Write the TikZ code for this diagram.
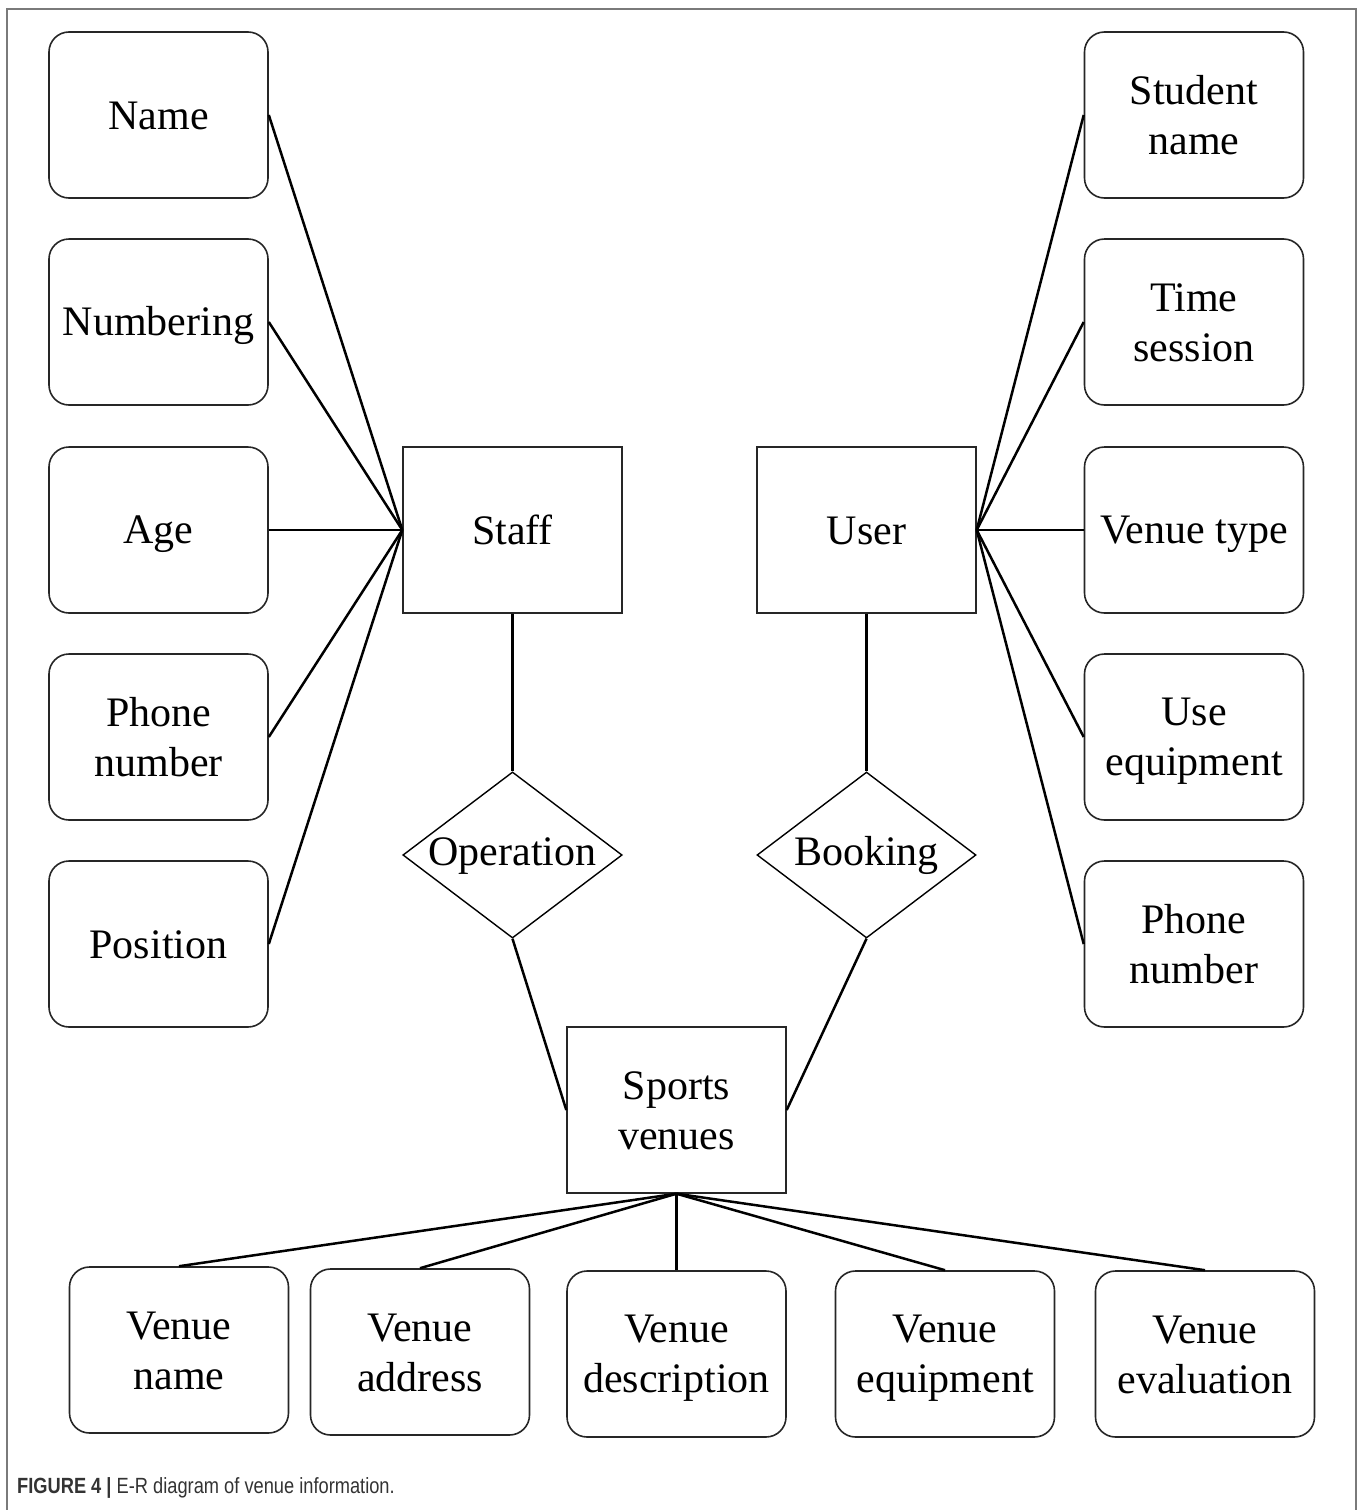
\documentclass[tikz,border=0pt]{standalone}
\usepackage{fontspec}
\setmainfont{Liberation Serif}
\newfontfamily\capfont[FakeStretch=0.83]{Liberation Sans}
\usetikzlibrary{shapes.geometric}
\definecolor{framegray}{HTML}{7A7A7A}
\definecolor{capgray}{HTML}{333333}
\newcommand{\ls}{\rule[-8pt]{0pt}{44pt}}
\tikzset{
  attr/.style={draw=black!85, line width=1.6pt, rounded corners=20pt, minimum width=219pt, minimum height=166pt, inner sep=0pt, align=center, font=\fontsize{42}{50}\selectfont},
  ent/.style={draw=black!85, line width=1.4pt, minimum width=219pt, minimum height=166pt, inner sep=0pt, align=center, font=\fontsize{42}{50}\selectfont},
  rel/.style={draw=black, line width=1.4pt, diamond, aspect=1.32, minimum width=219pt, minimum height=166pt, inner sep=0pt, font=\fontsize{42}{50}\selectfont},
  conn/.style={draw=black, line width=2.5pt}
}
\begin{document}
\begin{tikzpicture}[x=1pt,y=-1pt]
\useasboundingbox (0,0) rectangle (1363,1510);
\draw[framegray, line width=1.5pt] (7,1510) -- (7,9) -- (1356,9) -- (1356,1510);

% left attributes
\node[attr] (a1) at (158.5,115) {\ls Name};
\node[attr] (a2) at (158.5,322) {\ls Numbering};
\node[attr] (a3) at (158.5,530) {\ls Age};
\node[attr] (a4) at (158.5,737) {\ls Phone\\\ls number};
\node[attr] (a5) at (158.5,944) {\ls Position};

% right attributes
\node[attr] (b1) at (1194,115) {\ls Student\\\ls name};
\node[attr] (b2) at (1194,322) {\ls Time\\\ls session};
\node[attr] (b3) at (1194,530) {\ls Venue type};
\node[attr] (b4) at (1194,737) {\ls Use\\\ls equipment};
\node[attr] (b5) at (1194,944) {\ls Phone\\\ls number};

% entities
\node[ent] (staff) at (512.5,530) {\ls Staff};
\node[ent] (user) at (866.5,530) {\ls User};
\node[ent] (sv) at (676.5,1110) {\ls Sports\\\ls venues};

% relationships
\node[rel] (op) at (512.5,855) {\rule[-6pt]{0pt}{36pt}Operation};
\node[rel] (bk) at (866.5,855) {\rule[-6pt]{0pt}{36pt}Booking};

% bottom attributes
\node[attr] (c1) at (179,1350) {\ls Venue\\\ls name};
\node[attr] (c2) at (420,1352) {\ls Venue\\\ls address};
\node[attr] (c3) at (676.5,1354) {\ls Venue\\\ls description};
\node[attr] (c4) at (945,1354) {\ls Venue\\\ls equipment};
\node[attr] (c5) at (1205,1354) {\ls Venue\\\ls evaluation};

% connectors
\foreach \n in {a1,a2,a3,a4,a5} \draw[conn] (\n.east) -- (staff.west);
\foreach \n in {b1,b2,b3,b4,b5} \draw[conn] (\n.west) -- (user.east);
\draw[conn] (staff.south) -- (op.north);
\draw[conn] (user.south) -- (bk.north);
\draw[conn] (op.south) -- (sv.west);
\draw[conn] (bk.south) -- (sv.east);
\foreach \n in {c1,c2,c3,c4,c5} \draw[conn] (sv.south) -- (\n.north);

% caption
\node[anchor=west, inner sep=0pt, text=capgray, font=\capfont\fontsize{22}{25}\selectfont] (cap) at (17,1488) {\textbf{FIGURE 4 |} E-R diagram of venue information.};
\end{tikzpicture}
\end{document}
